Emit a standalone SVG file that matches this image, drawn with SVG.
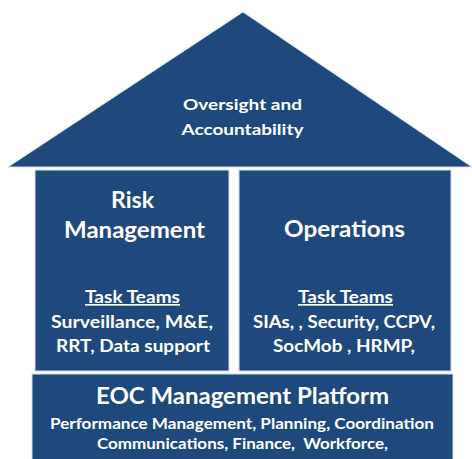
<svg xmlns="http://www.w3.org/2000/svg" width="472" height="459" viewBox="0 0 472 459">
<style>
.shape{fill:#1f497d;stroke:#d6dfeb;stroke-width:1}
text{font-family:Lato,"Open Sans","Liberation Sans",sans-serif;font-weight:bold;fill:#ffffff;text-anchor:middle}
.t15{font-size:15.5px}
.t16{font-size:16.5px}
.t22{font-size:22.5px}
.u{text-decoration:underline}
</style>
<rect width="472" height="459" fill="#ffffff"/>
<g id="roof">
<polygon class="shape" points="243,12 472,167 8,167"/>
<text class="t15" x="242.5" y="110" textLength="119" lengthAdjust="spacingAndGlyphs">Oversight and</text>
<text class="t15" x="242.5" y="135" textLength="122" lengthAdjust="spacingAndGlyphs">Accountability</text>
</g>
<g id="risk">
<rect class="shape" x="35" y="170" width="194" height="201"/>
<text class="t22" x="132.5" y="208" textLength="43" lengthAdjust="spacingAndGlyphs">Risk</text>
<text class="t22" x="134.5" y="238" textLength="141" lengthAdjust="spacingAndGlyphs">Management</text>
<text class="t16 u" x="132.5" y="303" textLength="95" lengthAdjust="spacingAndGlyphs">Task Teams</text>
<text class="t16" x="132" y="328" textLength="162" lengthAdjust="spacingAndGlyphs">Surveillance, M&amp;E,</text>
<text class="t16" x="133" y="352" textLength="154" lengthAdjust="spacingAndGlyphs">RRT, Data support</text>
</g>
<g id="operations">
<rect class="shape" x="239" y="170" width="212" height="201"/>
<text class="t22" x="344.5" y="237" textLength="121" lengthAdjust="spacingAndGlyphs">Operations</text>
<text class="t16 u" x="345.5" y="303" textLength="95" lengthAdjust="spacingAndGlyphs">Task Teams</text>
<text class="t16" x="344" y="328" textLength="182" lengthAdjust="spacingAndGlyphs">SIAs, , Security, CCPV,</text>
<text class="t16" x="344" y="352" textLength="142" lengthAdjust="spacingAndGlyphs">SocMob , HRMP,</text>
</g>
<g id="platform">
<rect class="shape" x="32" y="374" width="421" height="90"/>
<text class="t22" x="242.5" y="404" textLength="293" lengthAdjust="spacingAndGlyphs">EOC Management Platform</text>
<text class="t15" x="242" y="429" textLength="384" lengthAdjust="spacingAndGlyphs">Performance Management, Planning, Coordination</text>
<text class="t15" x="242.5" y="449" textLength="291" lengthAdjust="spacingAndGlyphs" xml:space="preserve">Communications, Finance,  Workforce,</text>
</g>
<g id="connectors"/>
</svg>
